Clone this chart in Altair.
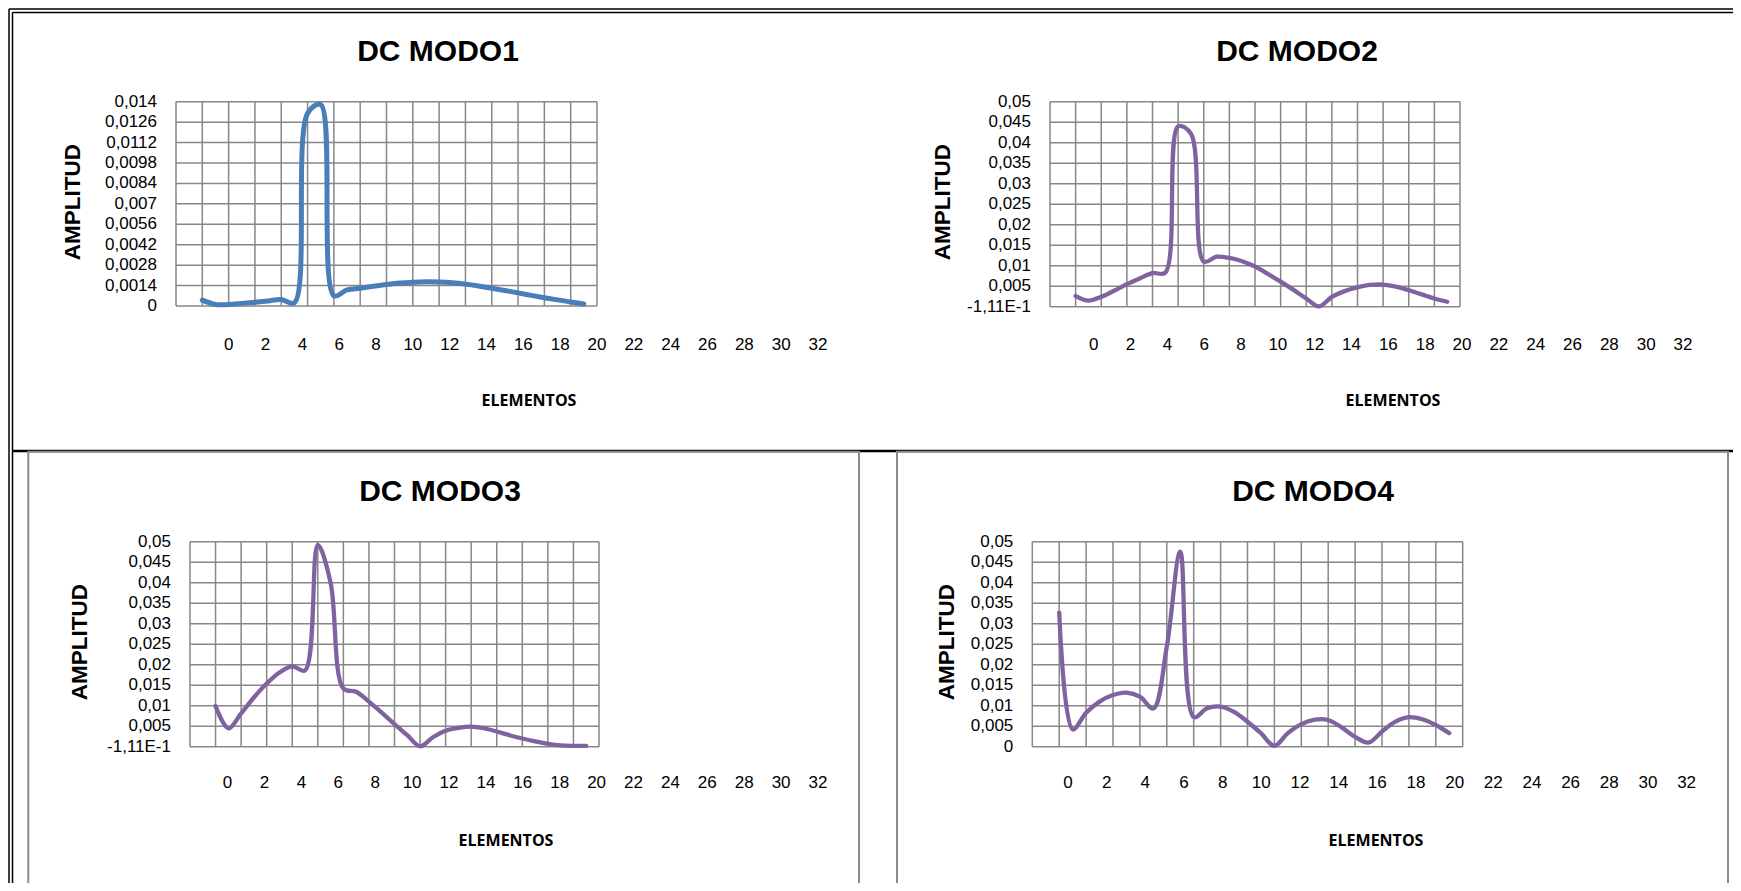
import altair as alt
import pandas as pd

W, H = 1725, 875

# ---------------- data ----------------
elementos = list(range(2, 32))

modo1 = [0.00040, 0.00010, 0.00010, 0.00018, 0.00026, 0.00035, 0.00045, 0.00022,
         0.01320, 0.01380, 0.00070, 0.00110, 0.00122, 0.00135, 0.00147, 0.00157,
         0.00163, 0.00166, 0.00165, 0.00160, 0.00150, 0.00137, 0.00122, 0.00106,
         0.00090, 0.00073, 0.00057, 0.00042, 0.00028, 0.00014]

modo2 = [0.0026, 0.0015, 0.0024, 0.0039, 0.0055, 0.0069, 0.0082, 0.0083,
         0.0440, 0.0422, 0.0110, 0.0122, 0.0119, 0.0111, 0.0098, 0.0080,
         0.0061, 0.0041, 0.0020, 0.0001, 0.0024, 0.0038, 0.0047, 0.0053,
         0.0054, 0.0049, 0.0040, 0.0030, 0.0020, 0.0012]

modo3 = [0.0099, 0.0045, 0.0081, 0.0120, 0.0154, 0.0181, 0.0196, 0.0186,
         0.0492, 0.0400, 0.0142, 0.0134, 0.0110, 0.0083, 0.0055, 0.0028,
         0.0001, 0.0023, 0.0039, 0.0046, 0.0049, 0.0045, 0.0037, 0.0028,
         0.0020, 0.0013, 0.0007, 0.0003, 0.0002, 0.0002]

modo4 = [0.0327, 0.0042, 0.0083, 0.0110, 0.0126, 0.0132, 0.0122, 0.0093,
         0.0244, 0.0476, 0.0072, 0.0094, 0.0098, 0.0085, 0.0061, 0.0033,
         0.0002, 0.0033, 0.0055, 0.0066, 0.0065, 0.0047, 0.0024, 0.0010,
         0.0037, 0.0061, 0.0072, 0.0067, 0.0053, 0.0033]

x_ticks = list(range(0, 33, 2))
x_tick_labels = [str(v) for v in x_ticks]

y_ticks_m1 = [0, 0.0014, 0.0028, 0.0042, 0.0056, 0.007, 0.0084, 0.0098, 0.0112, 0.0126, 0.014]
y_labels_m1 = ["0", "0,0014", "0,0028", "0,0042", "0,0056", "0,007", "0,0084",
               "0,0098", "0,0112", "0,0126", "0,014"]

y_ticks_5 = [0, 0.005, 0.01, 0.015, 0.02, 0.025, 0.03, 0.035, 0.04, 0.045, 0.05]
y_labels_m23 = ["-1,11E-1", "0,005", "0,01", "0,015", "0,02", "0,025", "0,03",
                "0,035", "0,04", "0,045", "0,05"]
y_labels_m4 = ["0", "0,005", "0,01", "0,015", "0,02", "0,025", "0,03",
               "0,035", "0,04", "0,045", "0,05"]

titles = ["DC MODO1", "DC MODO2", "DC MODO3", "DC MODO4"]
x_title = "ELEMENTOS"
y_title = "AMPLITUD"

# ---------------- styles / layout ----------------
GRID = "#878787"
TICKFONT = "Liberation Sans, Arial, sans-serif"
TITLEFONT = "Open Sans, Liberation Sans, sans-serif"
ARIAL = "Liberation Sans, Arial, sans-serif"
TICK_SIZE = 17

panels = [
    dict(values=modo1, ymax=0.014, yt=y_ticks_m1, yl=y_labels_m1, color="#4a7ebb", sw=5,
         box=(168, 589, 93.7, 298), lab=(220.7, 810, 337),
         title=(430, 44), xtitle=(521, 393), ytitle=(65, 194)),
    dict(values=modo2, ymax=0.05, yt=y_ticks_5, yl=y_labels_m23, color="#7f63a1", sw=4.3,
         box=(1042, 1452, 93.7, 298.7), lab=(1085.7, 1675, 337),
         title=(1289, 44), xtitle=(1385, 393), ytitle=(935, 194)),
    dict(values=modo3, ymax=0.05, yt=y_ticks_5, yl=y_labels_m23, color="#7f63a1", sw=4.3,
         box=(182, 591, 533.7, 738.7), lab=(219.6, 810, 775),
         title=(432, 484), xtitle=(498, 832.5), ytitle=(72, 634)),
    dict(values=modo4, ymax=0.05, yt=y_ticks_5, yl=y_labels_m4, color="#7f63a1", sw=4.3,
         box=(1024.3, 1454.7, 533.7, 738.7), lab=(1060, 1678.6, 775),
         title=(1305, 484), xtitle=(1368, 832.5), ytitle=(939, 634)),
]

one = pd.DataFrame({"k": [0]})
layers = []

# decorations: outer double border, row divider, frames of lower charts
def hline(x0, x1, y, color="black", w=1.5):
    return alt.Chart(one).mark_rule(color=color, strokeWidth=w).encode(
        x=alt.value(x0), x2=alt.value(x1), y=alt.value(y))

def vline(x, y0, y1, color="black", w=1.5):
    return alt.Chart(one).mark_rule(color=color, strokeWidth=w).encode(
        x=alt.value(x), y=alt.value(y0), y2=alt.value(y1))

layers += [hline(1, W, 1), hline(4.5, W, 4.5), vline(1, 1, H), vline(4.5, 4.5, H),
           hline(4.5, W, 443, w=2.5)]
for (fx0, fx1) in [(20.3, 851), (889, 1720)]:
    layers.append(alt.Chart(one).mark_rect(filled=False, stroke="#8c8c8c", strokeWidth=2).encode(
        x=alt.value(fx0), x2=alt.value(fx1), y=alt.value(443.7), y2=alt.value(880)))

for i, p in enumerate(panels):
    x0, x1, y0, y1 = p["box"]
    xs = alt.Scale(domain=[0, 32], range=[x0, x1], nice=False, zero=False)
    ys = alt.Scale(domain=[0, p["ymax"]], range=[y1, y0], nice=False, zero=False)

    vgrid = alt.Chart(pd.DataFrame({"x": x_ticks})).mark_rule(color=GRID, strokeWidth=1.5).encode(
        x=alt.X("x:Q", scale=xs, axis=None), y=alt.value(y0), y2=alt.value(y1))
    hgrid = alt.Chart(pd.DataFrame({"y": p["yt"]})).mark_rule(color=GRID, strokeWidth=1.5).encode(
        y=alt.Y("y:Q", scale=ys, axis=None), x=alt.value(x0), x2=alt.value(x1))
    line = alt.Chart(pd.DataFrame({"x": elementos, "y": p["values"]})).mark_line(
        interpolate="catmull-rom", color=p["color"], strokeWidth=p["sw"],
        strokeCap="round", strokeJoin="round").encode(
        x=alt.X("x:Q", scale=xs, axis=None), y=alt.Y("y:Q", scale=ys, axis=None))
    ylab = alt.Chart(pd.DataFrame({"y": p["yt"], "t": p["yl"]})).mark_text(
        align="right", baseline="middle", font=TICKFONT, fontSize=TICK_SIZE, color="black").encode(
        y=alt.Y("y:Q", scale=ys, axis=None), x=alt.value(x0 - 19), text="t:N")
    layers.append(alt.layer(vgrid, hgrid, line, ylab))

    lx0, lx1, ly = p["lab"]
    ls = alt.Scale(domain=[0, 32], range=[lx0, lx1], nice=False, zero=False)
    xlab = alt.Chart(pd.DataFrame({"x": x_ticks, "t": x_tick_labels})).mark_text(
        align="center", baseline="middle", font=TICKFONT, fontSize=TICK_SIZE, color="black").encode(
        x=alt.X("x:Q", scale=ls, axis=None), y=alt.value(ly), text="t:N")
    layers.append(xlab)

    tx, ty = p["title"]
    layers.append(alt.Chart(one).mark_text(
        align="center", baseline="middle", font=ARIAL, fontSize=30, fontWeight="bold", color="black").encode(
        x=alt.value(tx), y=alt.value(ty), text=alt.value(titles[i])))
    ex, ey = p["xtitle"]
    layers.append(alt.Chart(one).mark_text(
        align="center", baseline="middle", font=TITLEFONT, fontSize=16, fontWeight="bold", color="black").encode(
        x=alt.value(ex), y=alt.value(ey), text=alt.value(x_title)))
    ax, ay = p["ytitle"]
    layers.append(alt.Chart(one).mark_text(
        align="center", baseline="middle", angle=270, font=ARIAL, fontSize=22.5, fontWeight="bold", color="black").encode(
        x=alt.value(ax), y=alt.value(ay), text=alt.value(y_title)))

chart = alt.layer(*layers).resolve_scale(x="independent", y="independent").properties(
    width=W, height=H, autosize=alt.AutoSizeParams(type="none"), padding=0,
    background="white").configure_view(stroke=None)

chart.save("out.html", embed_options={"renderer": "svg", "actions": False})
